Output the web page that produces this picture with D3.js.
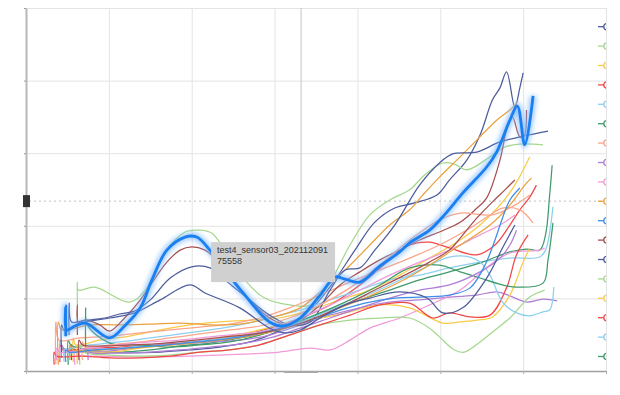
<!DOCTYPE html>
<html>
<head>
<meta charset="utf-8">
<script src="https://cdn.jsdelivr.net/npm/d3@7"></script>
<style>
  body { margin: 0; background: #fff; }
  svg { display: block; font-family: Arial, "Liberation Sans", sans-serif; }
</style>
</head>
<body>
<div id="chart"></div>
<script>
// colours cycle in legend order
var palette = ["#4c5c9c", "#a4d88e", "#f8cb4a", "#f04848", "#8dcfee", "#3f9a6c",
               "#fba58a", "#b07fd4", "#f19ad8", "#eaa13e", "#3d8ee8", "#a74f4f"];

var xTicks = [0, 10, 20, 30, 40, 50, 60, 70];
var yTicks = [0, 20, 40, 60, 80, 100];

// each series: [x, value] pairs
var s0 = [[5.5,3.0],[5.5,7.2],[5.9,5.8],[8.9,5.2],[12.5,5.0],[16.2,5.2],[19.8,5.8],[23.4,6.6],[27.0,8.0],[30.0,10.5],[32.4,13.5],[34.9,18.2],[37.3,25.1],[39.7,33.3],[42.1,41.0],[44.5,44.9],[46.9,46.3],[49.6,48.5],[51.1,52.6],[53.2,58.1],[54.8,65.0],[56.3,74.7],[57.2,78.0],[58.0,82.4],[59.0,72.7],[59.6,78.0],[60.0,82.1]];
var s1 = [[6.2,18.2],[6.2,24.5],[6.3,22.3],[8.3,23.1],[12.5,19.0],[14.4,22.3],[16.8,32.8],[19.2,38.3],[21.0,38.8],[22.4,38.0],[24.0,33.3],[26.4,25.1],[28.8,20.1],[31.8,18.2],[34.5,18.2],[36.7,24.5],[39.1,34.7],[41.5,43.0],[43.9,47.1],[46.3,49.9],[48.1,54.0],[50.3,57.3],[51.7,57.0],[53.2,55.4],[56.0,59.0],[57.8,61.7],[59.6,62.5],[62.4,62.3]];
var s2 = [[5.7,2.5],[5.7,9.1],[6.0,7.2],[8.9,8.5],[12.5,9.6],[16.2,11.3],[19.8,12.7],[23.4,13.5],[27.0,14.0],[30.6,14.6],[34.3,16.8],[37.9,19.6],[41.5,22.3],[45.1,26.4],[48.7,31.1],[52.4,36.1],[54.8,40.2],[57.2,45.7],[59.0,51.2],[60.8,59.0]];
var s3 = [[4.1,2.5],[4.1,7.2],[4.5,5.8],[7.7,6.3],[11.3,6.6],[15.0,7.2],[18.6,7.7],[22.2,8.5],[25.8,9.6],[29.4,11.8],[33.1,14.6],[36.7,18.2],[40.3,23.7],[43.9,30.6],[46.3,34.7],[48.7,35.5],[51.1,33.9],[54.4,32.0],[56.6,34.7],[58.4,40.2],[59.6,44.4],[60.8,47.9],[61.6,51.2]];
var s4 = [[4.1,3.0],[4.1,8.5],[4.5,6.3],[7.7,7.2],[11.3,8.0],[15.0,9.1],[18.6,10.2],[22.2,11.3],[25.8,12.7],[29.4,14.6],[33.1,16.8],[36.7,19.6],[40.3,22.3],[43.9,25.1],[47.5,26.4],[51.1,28.4],[54.8,30.0],[58.4,31.1],[62.0,31.4],[62.7,33.3],[63.6,45.2]];
var s5 = [[5.1,1.7],[5.1,8.5],[5.4,7.2],[7.7,5.8],[11.3,5.2],[15.0,5.8],[18.6,6.9],[22.2,7.7],[25.8,9.1],[29.4,10.7],[33.1,13.5],[36.7,16.8],[40.3,19.6],[43.9,22.3],[47.5,25.1],[51.1,27.3],[55.1,30.0],[58.4,32.8],[60.4,33.6],[62.0,33.3],[62.7,37.5],[63.2,48.5],[63.5,56.7]];
var s6 = [[3.6,1.9],[3.6,13.5],[4.0,8.5],[6.5,9.1],[10.1,9.6],[13.8,10.5],[17.4,11.3],[21.0,12.1],[24.6,12.9],[28.2,14.6],[31.8,17.4],[35.5,20.9],[39.1,24.5],[42.7,27.8],[46.3,31.1],[49.9,34.7],[53.6,39.4],[56.0,43.0],[57.5,44.9],[59.6,44.4],[61.2,40.8]];
var s7 = [[4.3,3.6],[4.3,7.2],[4.7,5.8],[7.7,5.2],[11.3,5.8],[15.0,6.9],[18.6,7.4],[22.2,8.0],[25.8,8.5],[29.4,9.9],[33.1,12.7],[36.7,15.4],[40.3,17.4],[43.9,19.0],[47.5,19.6],[51.5,20.4],[54.4,20.9],[56.8,21.8],[58.4,20.7],[60.4,19.0],[62.4,19.8],[64.1,19.3]];
var s8 = [[5.9,1.7],[5.9,5.2],[6.3,4.4],[8.9,4.1],[12.5,3.9],[16.2,3.9],[19.8,4.1],[23.4,4.4],[27.0,4.7],[30.6,5.2],[34.3,6.3],[36.7,5.8],[39.1,8.5],[41.5,11.8],[45.1,14.6],[48.7,18.2],[52.4,22.3],[56.0,29.2],[58.4,32.5],[62.0,33.3],[62.6,33.9]];
var s9 = [[3.9,1.7],[3.9,13.5],[4.3,11.3],[7.7,12.7],[11.3,12.7],[15.0,12.9],[18.6,13.2],[22.2,12.7],[25.8,12.9],[29.4,14.6],[33.1,17.4],[35.5,21.8],[38.5,27.8],[41.5,34.7],[43.9,40.2],[46.3,44.4],[47.9,48.5],[49.9,53.4],[52.4,59.0],[54.4,63.6],[56.8,69.1],[58.4,71.9],[59.2,73.8]];
var s10 = [[4.8,9.6],[4.8,17.9],[4.9,11.3],[5.9,12.4],[7.2,13.2],[10.1,9.1],[11.9,12.4],[13.8,17.4],[15.2,25.1],[17.0,33.3],[19.2,36.9],[20.6,36.9],[22.2,33.3],[24.0,27.8],[26.2,21.5],[29.4,13.5],[31.0,12.4],[33.1,14.6],[35.5,20.9],[37.3,25.9],[38.5,25.3],[40.3,24.5],[42.7,28.9],[45.1,32.8],[46.3,35.3],[48.7,38.8],[50.5,43.0],[52.7,49.0],[55.6,56.2],[56.8,60.3],[58.4,69.1],[59.3,73.0],[60.2,62.3],[61.2,75.8]];
var s11 = [[6.2,9.9],[6.2,18.2],[6.3,13.5],[7.2,14.0],[8.9,12.7],[10.1,11.0],[11.9,14.6],[13.8,19.6],[15.6,25.6],[17.0,30.0],[18.6,33.3],[20.0,34.2],[21.6,33.3],[22.8,31.1],[24.6,26.4],[27.0,19.6],[29.4,14.6],[31.2,12.9],[33.1,14.0],[35.5,18.2],[37.9,23.7],[40.3,27.3],[42.7,30.6],[45.1,33.3],[47.5,36.1],[49.9,38.3],[52.4,41.0],[54.2,44.4],[55.6,47.7],[57.2,58.1],[58.0,66.4],[58.7,70.0],[59.6,64.5],[60.1,64.7],[60.4,71.9]];
var s12 = [[5.2,9.9],[5.2,18.7],[5.5,13.5],[7.2,14.0],[9.5,14.6],[11.3,15.7],[13.1,16.5],[15.0,19.6],[17.4,25.6],[20.0,28.7],[22.2,28.4],[24.0,25.1],[27.0,19.6],[29.4,15.4],[31.8,12.7],[34.3,13.5],[36.7,22.3],[38.5,27.8],[40.3,28.4],[42.1,33.3],[44.5,40.2],[47.5,51.2],[49.9,57.3],[51.5,59.8],[54.4,60.3],[57.2,63.1],[60.0,64.7],[63.0,66.1]];
var s13 = [[6.5,1.7],[6.5,7.2],[7.0,5.2],[10.1,4.4],[13.8,4.1],[17.4,4.4],[21.0,5.2],[24.6,5.8],[28.2,7.2],[31.8,9.9],[35.5,12.7],[39.1,14.0],[42.7,14.6],[46.3,14.6],[48.7,11.8],[49.9,9.4],[51.7,5.8],[52.9,5.2],[54.8,8.0],[56.6,11.3],[58.4,14.6],[60.8,20.4],[62.6,22.3]];
var s14 = [[6.2,1.9],[6.2,7.2],[6.5,5.8],[10.1,5.2],[13.8,6.3],[17.4,7.2],[21.0,8.0],[24.6,9.6],[28.2,11.3],[31.8,13.5],[35.5,14.6],[39.1,16.3],[42.7,18.2],[46.3,17.4],[50.3,13.2],[52.4,13.5],[54.4,14.0],[56.3,14.9],[58.4,20.9],[60.0,30.0],[60.8,33.9]];
var s15 = [[3.4,1.7],[3.4,5.2],[3.7,4.1],[6.5,4.1],[10.1,3.6],[13.8,3.6],[17.4,4.1],[21.0,5.2],[24.6,5.8],[28.2,7.2],[31.8,9.9],[35.5,12.7],[39.1,15.4],[42.7,18.2],[46.3,18.7],[49.1,14.6],[51.1,16.0],[53.6,14.9],[56.0,15.4],[58.0,22.9],[59.2,32.0],[60.6,37.5]];
var s16 = [[4.6,2.5],[4.6,5.8],[4.9,5.0],[7.7,5.8],[11.3,6.3],[15.0,7.2],[18.6,8.0],[22.2,8.5],[25.8,9.6],[29.4,11.3],[33.1,13.5],[36.7,16.8],[40.3,20.1],[43.9,23.7],[47.5,27.8],[51.1,31.4],[53.6,31.4],[54.8,30.0],[56.0,26.4],[57.5,19.0],[59.2,16.0],[60.8,15.2],[62.4,16.3],[63.2,16.8],[63.7,23.1]];
var s17 = [[7.2,5.2],[7.2,17.4],[7.4,12.7],[10.1,7.7],[13.8,7.2],[17.4,6.6],[21.0,7.2],[24.6,8.0],[28.2,9.9],[31.8,12.7],[35.5,16.0],[39.1,19.6],[42.7,23.7],[46.3,28.4],[49.9,29.2],[52.4,27.3],[54.4,25.9],[57.5,23.7],[59.2,23.1],[62.4,24.2],[63.0,30.6],[63.6,40.8]];
var s18 = [[6.8,3.0],[6.8,8.0],[7.1,6.6],[10.1,7.2],[13.8,8.0],[17.4,9.1],[21.0,10.2],[24.6,11.3],[28.2,12.4],[31.8,14.6],[35.5,18.2],[39.1,22.9],[42.7,29.2],[46.3,36.1],[49.9,41.6],[52.4,43.5],[56.3,43.0],[59.0,45.7],[60.8,48.5]];
var s19 = [[7.5,3.0],[7.5,6.3],[7.7,5.2],[11.3,5.0],[15.0,5.2],[18.6,5.8],[22.2,6.6],[25.8,7.4],[29.4,9.1],[33.1,11.8],[36.7,14.6],[40.3,17.4],[43.9,20.1],[47.5,22.3],[51.1,23.7],[54.8,27.3],[57.2,31.1],[58.4,34.7],[59.2,38.8]];
var s20 = [[3.7,3.0],[3.7,6.3],[4.1,5.2],[7.7,6.3],[11.3,7.2],[15.0,8.0],[18.6,8.5],[22.2,9.4],[25.8,10.2],[29.4,11.3],[33.1,14.6],[36.7,18.2],[40.3,22.3],[43.9,26.4],[47.5,30.0],[51.1,33.3],[54.8,37.5],[57.2,40.2],[59.0,43.0]];
var s21 = [[5.3,3.0],[5.3,7.2],[5.7,5.8],[8.9,5.8],[12.5,6.3],[16.2,6.9],[19.8,7.7],[23.4,8.5],[27.0,9.6],[30.6,11.3],[34.3,14.0],[37.9,17.4],[41.5,20.7],[45.1,24.5],[48.7,29.2],[52.4,34.7],[56.0,40.2],[58.4,45.7],[60.2,51.2],[61.0,53.2]];
var s22 = [[4.8,2.5],[4.8,5.8],[5.2,5.2],[8.3,5.8],[11.9,6.3],[15.6,6.9],[19.2,7.7],[22.8,8.5],[26.4,9.6],[30.0,11.3],[33.7,13.5],[37.3,16.3],[40.9,18.7],[44.5,20.1],[48.1,20.4],[51.1,20.9],[53.6,22.9],[55.4,29.2],[56.6,36.1],[57.5,42.1],[58.4,47.1],[59.6,50.4]];
var s23 = [[6.4,3.0],[6.4,8.5],[6.8,7.2],[9.5,6.9],[13.1,7.2],[16.8,7.7],[20.4,8.5],[24.0,9.4],[27.6,10.2],[31.2,11.8],[34.9,14.6],[38.5,18.2],[42.1,22.3],[45.7,26.4],[48.7,30.0],[51.1,33.3],[52.4,36.6],[54.4,42.1],[56.3,46.6],[57.8,49.9],[59.0,52.6]];
var s24 = [[4.3,5.2],[4.3,12.7],[4.6,11.3],[7.2,13.5],[10.1,14.6],[13.1,16.0],[16.2,19.6],[19.8,23.7],[21.6,21.5],[25.8,17.4],[29.4,11.8],[31.2,10.5],[33.1,11.3],[35.5,14.6],[38.5,18.2],[41.5,20.1],[45.1,21.8],[48.4,20.1],[50.3,16.0],[52.7,17.4],[55.6,25.6],[57.5,33.9],[59.0,40.2]];

var series = [s0, s1, s2, s3, s4, s5, s6, s7, s8, s9, s10, s11, s12,
              s13, s14, s15, s16, s17, s18, s19, s20, s21, s22, s23, s24];

var highlighted = 10;
var tooltipName = "test4_sensor03_20211209175558";

// mouse pointer position (data units)
var pointerX = 33.2;
var pointerY = 46.8;

var svgWidth = 620;
var svgHeight = 395;
var margin = { top: 8, right: 14, bottom: 24, left: 26 };
var chartWidth = svgWidth - margin.left - margin.right;
var chartHeight = svgHeight - margin.top - margin.bottom;

var svg = d3.select("#chart").append("svg")
    .attr("width", svgWidth)
    .attr("height", svgHeight);

var defs = svg.append("defs");
defs.append("clipPath").attr("id", "plotClip")
  .append("rect").attr("width", chartWidth).attr("height", chartHeight);
defs.append("clipPath").attr("id", "legendClip")
  .append("rect").attr("x", chartWidth - 20).attr("y", 7)
  .attr("width", 20).attr("height", chartHeight - 12);
defs.append("filter").attr("id", "glow")
  .attr("x", "-20%").attr("y", "-20%").attr("width", "140%").attr("height", "140%")
  .append("feGaussianBlur").attr("stdDeviation", 2.4);

var chartGroup = svg.append("g")
    .attr("transform", `translate(${margin.left}, ${margin.top})`);

var xScale = d3.scaleLinear().domain([0, 70]).range([0, chartWidth]);
var yScale = d3.scaleLinear().domain([0, 100]).range([chartHeight, 0]);

// grid
var xGrid = chartGroup.append("g")
    .attr("transform", `translate(0, ${chartHeight})`)
    .call(d3.axisBottom(xScale).tickValues(xTicks).tickSize(-chartHeight).tickFormat(""));
xGrid.select(".domain").remove();
xGrid.selectAll("line").attr("stroke", "#e4e4e4");

var yGrid = chartGroup.append("g")
    .call(d3.axisLeft(yScale).tickValues(yTicks).tickSize(-chartWidth).tickFormat(""));
yGrid.select(".domain").remove();
yGrid.selectAll("line").attr("stroke", "#e4e4e4");

// axes with small outer ticks
var xAxis = chartGroup.append("g")
    .attr("transform", `translate(0, ${chartHeight})`)
    .call(d3.axisBottom(xScale).tickValues(xTicks).tickSize(3).tickSizeOuter(0).tickFormat(""));
xAxis.select(".domain").attr("stroke", "#a0a0a0").attr("stroke-width", 1.5);
xAxis.selectAll("line").attr("stroke", "#b0b0b0");

var yAxis = chartGroup.append("g")
    .call(d3.axisLeft(yScale).tickValues(yTicks).tickSize(2).tickSizeOuter(0).tickFormat(""));
yAxis.select(".domain").attr("stroke", "#b8b8b8").attr("stroke-width", 2);
yAxis.selectAll("line").attr("stroke", "#999");

// crosshair
chartGroup.append("line")
    .attr("x1", xScale(pointerX)).attr("x2", xScale(pointerX))
    .attr("y1", 0).attr("y2", chartHeight)
    .attr("stroke", "#c4c4c4");
chartGroup.append("line")
    .attr("x1", 3).attr("x2", chartWidth)
    .attr("y1", yScale(pointerY)).attr("y2", yScale(pointerY))
    .attr("stroke", "#c0c0c0").attr("stroke-dasharray", "2,3");

// lines
var line = d3.line()
    .x(d => xScale(d[0]))
    .y(d => yScale(d[1]))
    .curve(d3.curveCatmullRom.alpha(0.5));

var lines = chartGroup.append("g").attr("clip-path", "url(#plotClip)");

series.forEach(function(s, i) {
    if (i === highlighted) return;
    lines.append("path")
        .datum(s)
        .attr("d", line)
        .attr("fill", "none")
        .attr("stroke", palette[i % palette.length])
        .attr("stroke-width", 1.25)
        .attr("stroke-linejoin", "round");
});

// highlighted series with glow
lines.append("path")
    .datum(series[highlighted])
    .attr("d", line)
    .attr("fill", "none")
    .attr("stroke", "#78b6ff")
    .attr("stroke-width", 6.5)
    .attr("stroke-opacity", 0.75)
    .attr("filter", "url(#glow)");
lines.append("path")
    .datum(series[highlighted])
    .attr("d", line)
    .attr("fill", "none")
    .attr("stroke", "#1a7ff0")
    .attr("stroke-width", 2.8)
    .attr("stroke-linejoin", "round");

// pointer labels on the axes (mostly cut off)
chartGroup.append("rect")
    .attr("x", -3).attr("y", yScale(pointerY) - 6)
    .attr("width", 7).attr("height", 12)
    .attr("fill", "#333");
chartGroup.append("rect")
    .attr("x", xScale(pointerX) - 17).attr("y", chartHeight)
    .attr("width", 34).attr("height", 2)
    .attr("fill", "#a8a8a8");

// legend, clipped at the right edge
var legend = chartGroup.append("g").attr("clip-path", "url(#legendClip)");
series.forEach(function(s, i) {
    var ly = 18.7 + i * 19.4;
    var c = palette[i % palette.length];
    legend.append("line")
        .attr("x1", chartWidth - 8).attr("x2", chartWidth - 2)
        .attr("y1", ly).attr("y2", ly)
        .attr("stroke", c).attr("stroke-width", 1.3);
    legend.append("circle")
        .attr("cx", chartWidth + 1).attr("cy", ly).attr("r", 3.2)
        .attr("fill", "#fff")
        .attr("stroke", c).attr("stroke-width", 1.3);
});

// tooltip
var tipX = xScale(pointerX) - 90;
var tipY = yScale(pointerY) + 41;
var tip = chartGroup.append("g").attr("transform", `translate(${tipX}, ${tipY})`);
tip.append("rect")
    .attr("width", 124).attr("height", 40)
    .attr("fill", "#d0d0d0");
tip.append("text")
    .attr("x", 6).attr("y", 11)
    .attr("font-size", 9).attr("fill", "#333")
    .text(tooltipName.slice(0, 24));
tip.append("text")
    .attr("x", 6).attr("y", 21.5)
    .attr("font-size", 9).attr("fill", "#333")
    .text(tooltipName.slice(24));
</script>
</body>
</html>
